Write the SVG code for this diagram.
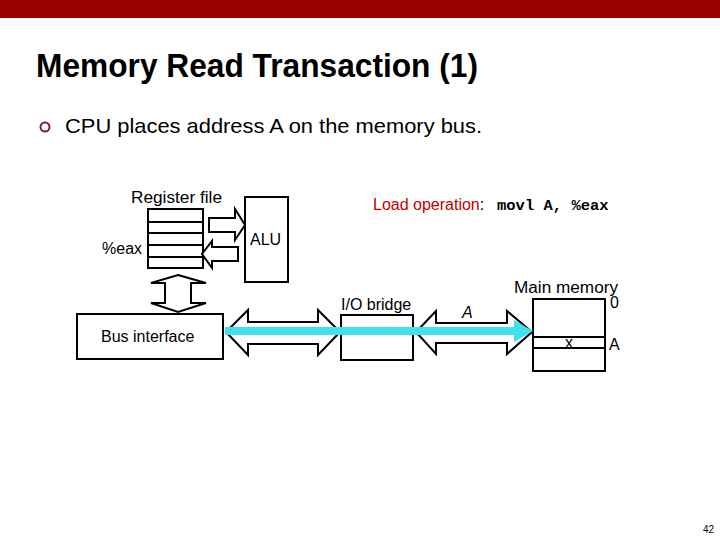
<svg xmlns="http://www.w3.org/2000/svg" width="720" height="540" viewBox="0 0 720 540">
<style>
.box{fill:#fff;stroke:#000;stroke-width:2}
.arr{fill:#fff;stroke:#000;stroke-width:2;stroke-linejoin:miter}
.t{font-family:"Liberation Sans",Arial,sans-serif;font-size:16px;fill:#000}
.ln{stroke:#000;stroke-width:2}
</style>
<rect x="0" y="0" width="720" height="540" fill="#fff"/>
<rect x="0" y="0" width="720" height="18" fill="#990000"/>
<text x="36" y="77" font-family="'Liberation Sans',Arial,sans-serif" font-weight="bold" font-size="33" textLength="442" lengthAdjust="spacingAndGlyphs">Memory Read Transaction (1)</text>
<circle cx="45" cy="127" r="4.5" fill="none" stroke="#7f1f2a" stroke-width="2"/>
<text x="65" y="133" font-family="'Liberation Sans',Arial,sans-serif" font-size="21" textLength="417" lengthAdjust="spacingAndGlyphs">CPU places address A on the memory bus.</text>

<g id="register-file">
<rect class="box" x="148" y="209" width="55" height="59"/>
<line class="ln" x1="148" y1="222" x2="203" y2="222"/>
<line class="ln" x1="148" y1="233" x2="203" y2="233"/>
<line class="ln" x1="148" y1="245" x2="203" y2="245"/>
<line class="ln" x1="148" y1="257" x2="203" y2="257"/>
<text class="t" x="131" y="203" textLength="91" lengthAdjust="spacingAndGlyphs">Register file</text>
<text class="t" x="102" y="254">%eax</text>
</g>
<g id="alu">
<rect class="box" x="245" y="197" width="43" height="85"/>
<text class="t" x="250" y="245">ALU</text>
</g>
<g id="bus-interface">
<rect class="box" x="77" y="314" width="146" height="45"/>
<text class="t" x="101" y="342">Bus interface</text>
</g>
<g id="io-bridge">
<rect class="box" x="341" y="315" width="72" height="45"/>
<text class="t" x="341" y="310">I/O bridge</text>
</g>
<g id="main-memory">
<rect class="box" x="533" y="299" width="72" height="72"/>
<line class="ln" x1="533" y1="337" x2="605" y2="337"/>
<line class="ln" x1="533" y1="348" x2="605" y2="348"/>
<text class="t" x="514" y="293" font-size="17" textLength="104" lengthAdjust="spacingAndGlyphs">Main memory</text>
<text class="t" x="610" y="308">0</text>
<text class="t" x="609" y="350">A</text>
<text class="t" x="565" y="348" font-size="13">x</text>
</g>
<g id="load-operation">
<text x="373" y="210" font-family="'Liberation Sans',Arial,sans-serif" font-size="16"><tspan fill="#c00000">Load operation</tspan><tspan fill="#000">: </tspan></text>
<text x="497" y="210" font-family="'Liberation Mono','Courier New',monospace" font-size="15.5" font-weight="bold" fill="#000">movl A, %eax</text>
</g>

<g id="connectors">
<polygon class="arr" points="209,218 235,218 235,209 245,225 235,240 235,232 209,232"/>
<polygon class="arr" points="238,247 212,247 212,241 202,254 212,268 212,261 238,261"/>
<polygon class="arr" points="178,275 206,283 191,283 191,303 206,303 178,312 151,303 165,303 165,283 151,283"/>
<polygon class="arr" points="226,332 248,310 248,322 318,322 318,310 340,332 318,355 318,344 248,344 248,355"/>
<polygon class="arr" points="416,332 436,311 436,323 507,323 507,311 532,332 507,354 507,343 436,343 436,354"/>
<line x1="225" y1="331" x2="517" y2="331" stroke="#40e0ee" stroke-width="8"/>
<polygon points="514,320 533,331 514,342" fill="#40e0ee"/>
<text x="462" y="318" font-family="'Liberation Sans',Arial,sans-serif" font-size="16" font-style="italic">A</text>
</g>
<text x="703" y="533" font-family="'Liberation Sans',Arial,sans-serif" font-size="10">42</text>
</svg>
